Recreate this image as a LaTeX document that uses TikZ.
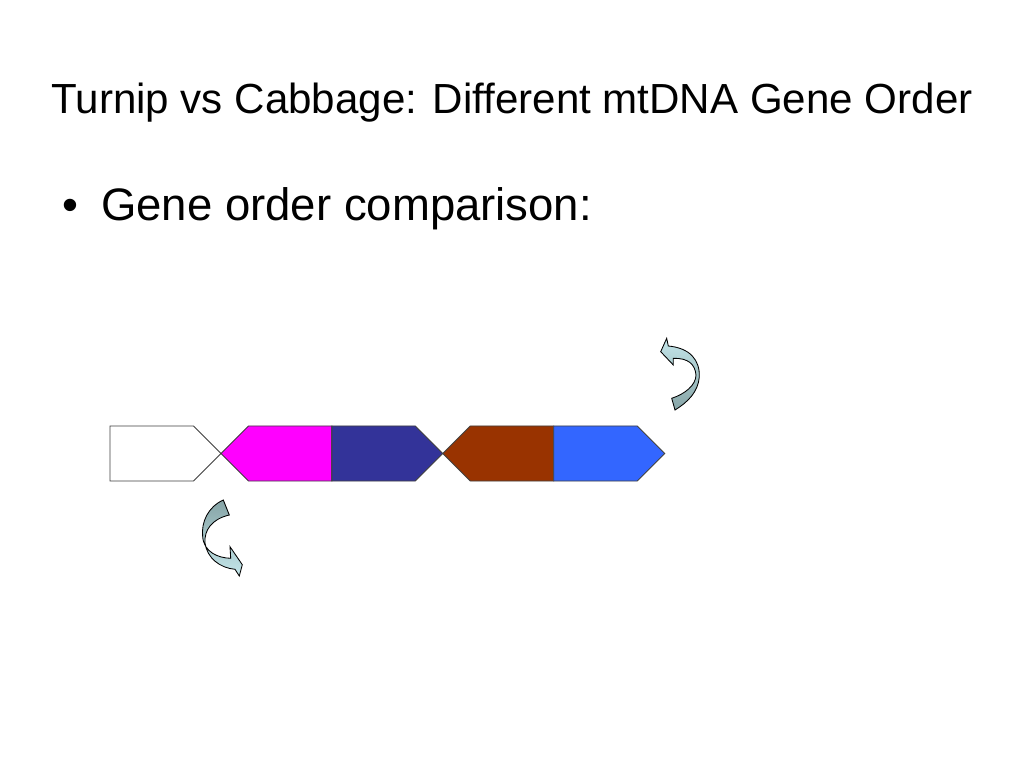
\documentclass[tikz,border=0pt]{standalone}
\usepackage{fontspec}
\setmainfont{Liberation Sans}
\usetikzlibrary{positioning,shapes.symbols}
\definecolor{genepink}{HTML}{FF00FF}
\definecolor{genenavy}{HTML}{333399}
\definecolor{genebrown}{HTML}{993300}
\definecolor{geneblue}{HTML}{3366FF}
\definecolor{curllight}{HTML}{C4E6EA}
\definecolor{curldark}{HTML}{86A4A6}

\begin{document}
\begin{tikzpicture}[x=0.703125pt,y=-0.703125pt,
    gene/.style={signal,draw=black!75,line width=0.6pt,minimum width=78pt,
      minimum height=38.7pt,inner sep=0pt,outer sep=0pt,signal pointer angle=90},
    fwd/.style={gene,signal to=east},
    rev/.style={gene,signal to=west},
    curl/.style={draw=black,line width=0.6pt}]
  \fill[white] (0,0) rectangle (1024,768);
  \useasboundingbox (0,0) rectangle (1024,768);
  \node (title) [anchor=base,inner sep=0pt,font=\fontsize{29.6}{34}\selectfont] at (512,114)
    {Turnip vs Cabbage: Different mtDNA Gene Order};
  \node (dot) [anchor=base west,inner sep=0pt,font=\fontsize{32}{38}\selectfont] at (62,221) {\textbullet};
  \node (item) [anchor=base west,inner sep=0pt,font=\fontsize{32}{38}\selectfont] at (101,221)
    {Gene order comparison:};
  \node (white) [fwd,fill=white,anchor=west] at (110,453.5) {};
  \node (magenta) [rev,fill=genepink,right=0pt of white] {};
  \node (navy) [fwd,fill=genenavy,right=0pt of magenta] {};
  \node (brown) [rev,fill=genebrown,right=0pt of navy] {};
  \node (blue) [fwd,fill=geneblue,right=0pt of brown] {};
  % curled arrows
  \path[curl,top color=curllight,bottom color=curldark]
    (660.7,351.7) -- (666.7,338.3) -- (668.3,346)
    .. controls (690,348) and (700,360) .. (699.3,377)
    .. controls (698,392) and (688,402) .. (675,410) -- (671.7,398.3)
    .. controls (685,394) and (696,385) .. (696,375)
    .. controls (695,364) and (688,358) .. (673.3,358.3) -- (673.3,365) -- cycle;
  \path[curl,top color=curldark,bottom color=curllight]
    (223.3,500) .. controls (208,507) and (201,522) .. (202.7,537)
    .. controls (204,552) and (218,558) .. (230.7,558.3) -- (230,546.7)
    -- (242.3,564.7) -- (239.3,576) -- (235,569.3)
    .. controls (220,568) and (207,558) .. (205,543)
    .. controls (204,530) and (212,519) .. (229.3,515) -- cycle;
\end{tikzpicture}
\end{document}
